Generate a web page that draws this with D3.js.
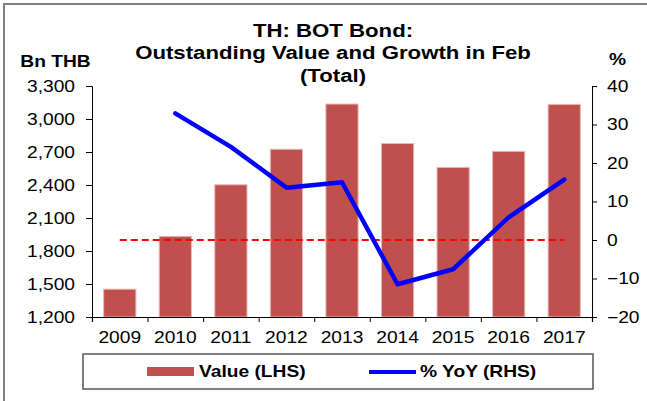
<!DOCTYPE html>
<html>
<head>
<meta charset="utf-8">
<script src="https://cdn.jsdelivr.net/npm/d3@7"></script>
<style>
  html, body { margin: 0; padding: 0; background: #fff; }
  svg { display: block; }
  text { font-family: "Liberation Sans", Arial, sans-serif; fill: #000; }
</style>
</head>
<body>
<svg id="chart" width="647" height="401"></svg>
<script>
const years = ["2009","2010","2011","2012","2013","2014","2015","2016","2017"];
const values = [1453, 1933, 2402, 2725, 3136, 2777, 2560, 2706, 3133];
const yoy = [null, 32.9, 24.2, 13.6, 15.0, -11.5, -7.6, 5.9, 15.7];
const leftTicks = [1200, 1500, 1800, 2100, 2400, 2700, 3000, 3300];
const rightTicks = [-20, -10, 0, 10, 20, 30, 40];
const titleLines = ["TH: BOT Bond:", "Outstanding Value and Growth in Feb", "(Total)"];

const SX = 1.2; // horizontal stretch of the original rendering
const svg = d3.select("#chart");
const L = 92, R = 592, T = 86, B = 317;

function stext(g, x, y, str, size, weight, anchor) {
  return g.append("text")
    .attr("transform", `translate(${x},${y}) scale(${SX},1)`)
    .attr("text-anchor", anchor || "middle")
    .style("font-size", size + "px")
    .style("font-weight", weight || "normal")
    .text(str);
}

// frame
svg.append("path").attr("d", `M4,401 L4,4 L647,4`).attr("fill", "none")
  .attr("stroke", "#808080").attr("stroke-width", 2);

const x = d3.scaleBand().domain(years).range([L, R]).paddingInner(0.42).paddingOuter(0.21);
const xEdge = d3.scaleLinear().domain([0, years.length]).range([L, R]);
const yL = d3.scaleLinear().domain([1200, 3300]).range([B, T]);
const yR = d3.scaleLinear().domain([-20, 40]).range([B, T]);

// bars
svg.append("g").selectAll("rect").data(values).join("rect")
  .attr("x", (d, i) => x(years[i]))
  .attr("y", d => yL(d))
  .attr("width", x.bandwidth())
  .attr("height", d => B - yL(d))
  .attr("fill", "#C0504D")
  .attr("stroke", "#E6B9B8").attr("stroke-width", 1);

// zero dashed line
svg.append("line")
  .attr("x1", x(years[0]) + x.bandwidth() / 2)
  .attr("x2", x(years[years.length - 1]) + x.bandwidth() / 2)
  .attr("y1", yR(0)).attr("y2", yR(0))
  .attr("stroke", "#FF0000").attr("stroke-width", 2)
  .attr("stroke-dasharray", "7,4");

// yoy line
const line = d3.line()
  .defined(d => d != null)
  .x((d, i) => x(years[i]) + x.bandwidth() / 2)
  .y(d => yR(d));
svg.append("path").datum(yoy)
  .attr("d", line)
  .attr("fill", "none")
  .attr("stroke", "#0000FF").attr("stroke-width", 4.5)
  .attr("stroke-linejoin", "round").attr("stroke-linecap", "round");

// left axis
const gL = svg.append("g").attr("transform", `translate(${L},0)`)
  .call(d3.axisLeft(yL).tickValues(leftTicks).tickSize(6).tickPadding(11).tickFormat(d3.format(",")));
gL.select(".domain").attr("stroke", "#000");
gL.selectAll("text").style("font-size", "16px").style("font-family", "Liberation Sans, Arial, sans-serif")
  .attr("x", -17 / SX).attr("transform", `scale(${SX},1)`);

// right axis
const gR = svg.append("g").attr("transform", `translate(${R},0)`)
  .call(d3.axisRight(yR).tickValues(rightTicks).tickSize(5).tickPadding(10));
gR.selectAll("text").style("font-size", "16px").style("font-family", "Liberation Sans, Arial, sans-serif")
  .attr("x", 15 / SX).attr("transform", `scale(${SX},1)`);

// bottom axis: ticks at band edges
const gB = svg.append("g").attr("transform", `translate(0,${B})`)
  .call(d3.axisBottom(xEdge).ticks(years.length).tickSize(5).tickFormat(""));
gB.select(".domain").attr("stroke-width", 1.2);
// year labels
const gY = svg.append("g").attr("transform", `translate(0,${B})`)
  .call(d3.axisBottom(x).tickSize(0).tickPadding(15));
gY.select(".domain").remove();
gY.selectAll("text").style("font-size", "16px").style("font-family", "Liberation Sans, Arial, sans-serif")
  .attr("transform", `scale(${SX},1)`).attr("x", 0);
gY.selectAll(".tick").each(function(d) {
  d3.select(this).attr("transform", `translate(${x(d) + x.bandwidth() / 2},0)`);
});

// titles
const tg = svg.append("g");
const tBase = [36.5, 59, 81.5];
titleLines.forEach((t, i) => stext(tg, 333, tBase[i], t, 18.5, "bold"));
stext(tg, 55.5, 66.5, "Bn THB", 16, "bold");
stext(tg, 617.5, 65, "%", 16, "bold");

// legend
const lg = svg.append("g");
lg.append("rect").attr("x", 83).attr("y", 354).attr("width", 510).attr("height", 35)
  .attr("fill", "#fff").attr("stroke", "#555").attr("stroke-width", 1.5);
lg.append("rect").attr("x", 147).attr("y", 367).attr("width", 47).attr("height", 9).attr("fill", "#C0504D");
stext(lg, 199, 377, "Value (LHS)", 16, "bold", "start");
lg.append("line").attr("x1", 369).attr("x2", 416).attr("y1", 372).attr("y2", 372)
  .attr("stroke", "#0000FF").attr("stroke-width", 4);
stext(lg, 420, 377, "% YoY (RHS)", 16, "bold", "start");
</script>
</body>
</html>
